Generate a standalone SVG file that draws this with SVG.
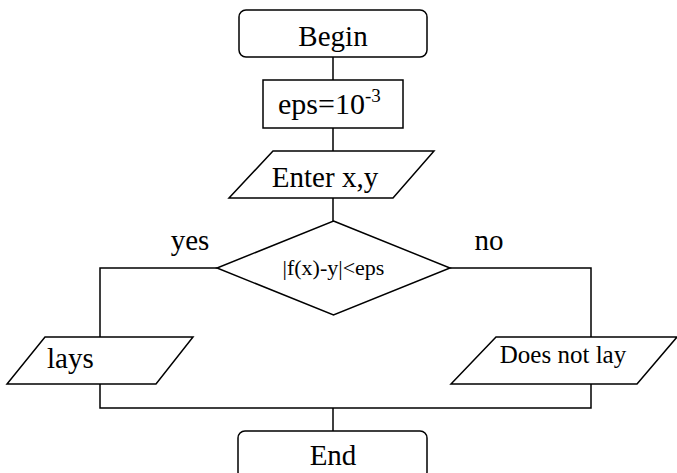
<svg xmlns="http://www.w3.org/2000/svg" width="677" height="473" viewBox="0 0 677 473">
<defs>
<style>.s{fill:#fff;stroke:#000;stroke-width:1.5}.c{fill:none;stroke:#000;stroke-width:1.5}</style>
</defs>
<rect width="677" height="473" fill="#fff"/>
<g id="connectors">
<path class="c" d="M333,57V80M333,128V151M333,198V221"/>
<path class="c" d="M217,268H100V337M100,384V408H591V384M591,337V268H450"/>
<path class="c" d="M333,408V431"/>
</g>
<g font-family="Liberation Serif" fill="#000">
<g id="begin"><rect class="s" x="239" y="10" width="188" height="47" rx="7"/><text font-family="Liberation Serif" font-size="29" text-anchor="middle" x="333" y="46">Begin</text></g>
<g id="eps"><rect class="s" x="263" y="80" width="140" height="48"/><text font-family="Liberation Serif" x="278" y="114" font-size="30">eps=10<tspan dy="-12" font-size="19">-3</tspan></text></g>
<g id="enter"><polygon class="s" points="273,151 434,151 393,198 229,198"/><text font-family="Liberation Serif" font-size="29" text-anchor="middle" x="325" y="187">Enter x,y</text></g>
<g id="cond"><polygon class="s" points="333.5,221 450,268 333.5,315 217,268"/><text font-family="Liberation Serif" font-size="22" text-anchor="middle" x="333.5" y="275">|f(x)-y|&lt;eps</text></g>
<g id="yes-label"><text font-family="Liberation Serif" font-size="29" text-anchor="middle" x="190" y="250">yes</text></g>
<g id="no-label"><text font-family="Liberation Serif" font-size="29" text-anchor="middle" x="489" y="250">no</text></g>
<g id="lays"><polygon class="s" points="45,337 193,337 156,384 7,384"/><text font-family="Liberation Serif" font-size="29" x="47" y="368">lays</text></g>
<g id="notlay"><polygon class="s" points="496,337 677,337 637,384 451,384"/><text font-family="Liberation Serif" font-size="25" text-anchor="middle" x="563" y="363">Does not lay</text></g>
<g id="end"><rect class="s" x="238" y="431" width="189" height="48" rx="7"/><text font-family="Liberation Serif" font-size="29" text-anchor="middle" x="333" y="465">End</text></g>
</g>
</svg>
